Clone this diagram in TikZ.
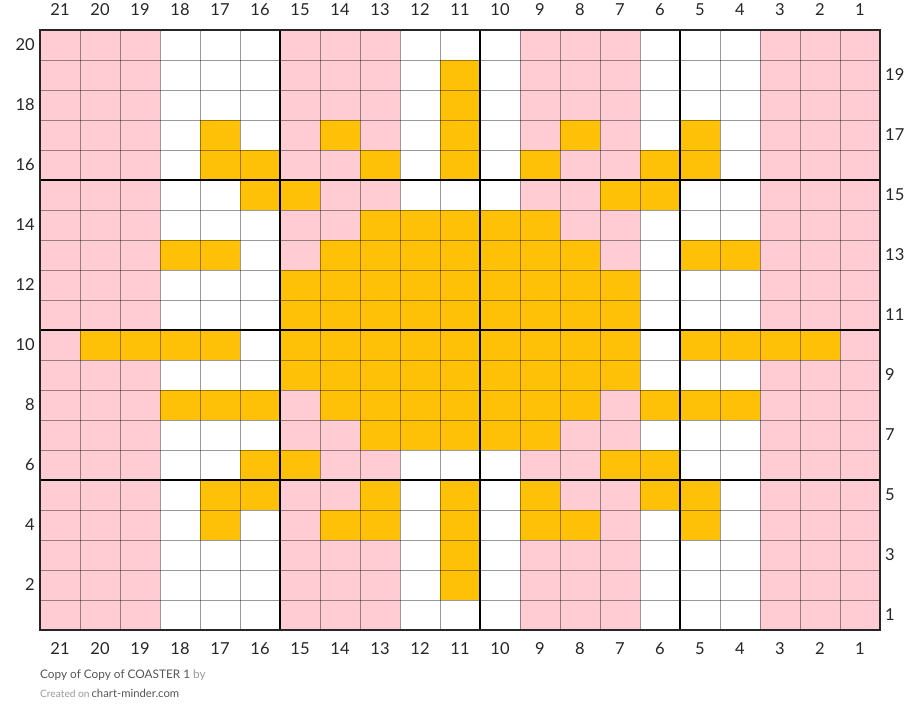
\documentclass[tikz,border=0pt]{standalone}
\usepackage{fontspec}
\setmainfont{Lato}
\definecolor{pinkc}{HTML}{FFCCD4}
\definecolor{yelc}{HTML}{FFC107}
\definecolor{txtdark}{HTML}{555555}
\definecolor{txtlight}{HTML}{9A9A9A}
\begin{document}
\begin{tikzpicture}[x=1pt,y=-1pt,
  lab/.style={font=\fontsize{16.5}{16.5}\selectfont, inner sep=0pt, text=black!85},
  thingrid/.style={draw=black, draw opacity=0.4, line width=0.9pt},
  thickgrid/.style={draw=black, line width=2pt},
  border/.style={draw=black!85, line width=2.6pt},
  cellfill/.style={fill=yelc}]
\useasboundingbox (0,0) rectangle (920,723);
\fill[white] (0,0) rectangle (920,723);
% pink column groups
\foreach \c in {21,15,9,3}
  \fill[pinkc] ({880-\c*40},30) rectangle ++(120,600);
% yellow cells: row / columns
\foreach \r/\cl in {19/{11},18/{11},17/{17,14,11,8,5},16/{17,16,13,11,9,6,5},
  15/{16,15,7,6},14/{13,12,11,10,9},13/{18,17,14,13,12,11,10,9,8,5,4},
  12/{15,14,13,12,11,10,9,8,7},11/{15,14,13,12,11,10,9,8,7},
  10/{20,19,18,17,15,14,13,12,11,10,9,8,7,5,4,3,2},
  9/{15,14,13,12,11,10,9,8,7},8/{18,17,16,14,13,12,11,10,9,8,6,5,4},
  7/{13,12,11,10,9},6/{16,15,7,6},5/{17,16,13,11,9,6,5},
  4/{17,14,13,11,9,8,5},3/{11},2/{11}}
{
  \foreach \c in \cl
    \fill[cellfill] ({880-\c*40},{630-\r*30}) rectangle ++(40,30);
}
% thin grid
\foreach \i in {1,...,20}
  \draw[thingrid] ({40+\i*40},30) -- ({40+\i*40},630);
\foreach \j in {1,...,19}
  \draw[thingrid] (40,{30+\j*30}) -- (880,{30+\j*30});
% thick grid
\foreach \x in {280,480,680}
  \draw[thickgrid] (\x,30) -- (\x,630);
\foreach \y in {180,330,480}
  \draw[thickgrid] (40,\y) -- (880,\y);
% border
\draw[border] (40,30) rectangle (880,630);
% column labels
\foreach \c in {1,...,21}
{
  \node[lab] (t\c) at ({880-(\c-0.5)*40},10) {\c};
  \node[lab] (b\c) at ({880-(\c-0.5)*40},649) {\c};
}
% row labels
\foreach \r in {2,4,...,20}
  \node[lab,anchor=east] (l\r) at (35,{630-(\r-0.5)*30}) {\r};
\foreach \r in {1,3,...,19}
  \node[lab,anchor=west] (r\r) at (885,{630-(\r-0.5)*30}) {\r};
% footer
\node[anchor=base west, inner sep=0pt, font=\fontsize{11.8}{13}\selectfont] (title) at (40,678)
  {\textcolor{txtdark}{Copy of Copy of COASTER 1} \textcolor{txtlight}{by}};
\node[anchor=base west, inner sep=0pt, font=\fontsize{11.3}{13}\selectfont] (created) at (40,697)
  {\textcolor{txtlight}{\fontsize{10.2}{11}\selectfont Created on}\,\textcolor{txtdark}{chart-minder.com}};
\end{tikzpicture}
\end{document}
